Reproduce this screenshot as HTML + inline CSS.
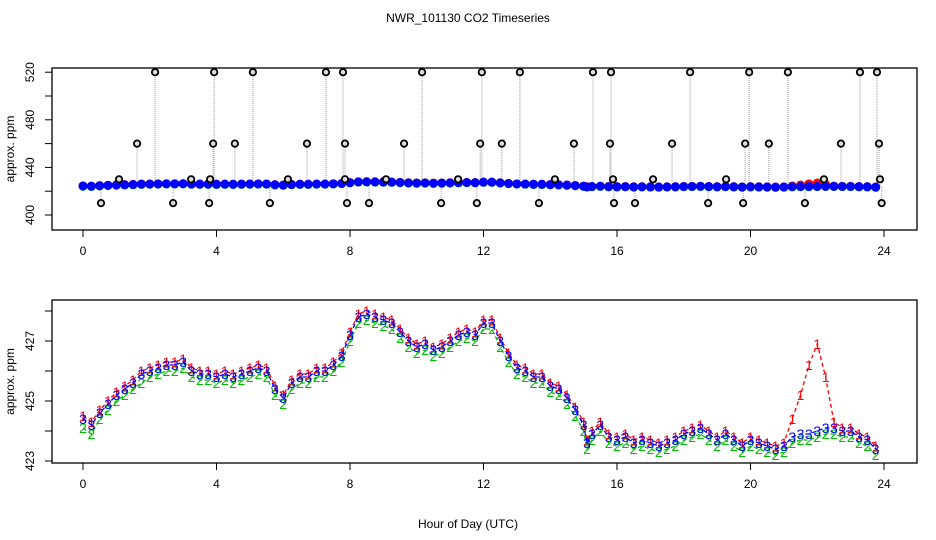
<!DOCTYPE html>
<html><head><meta charset="utf-8"><style>
body{margin:0;background:#fff}
svg{display:block;font-family:"Liberation Sans",sans-serif}
</style></head><body>
<svg id="chart" width="936" height="540" viewBox="0 0 936 540" xmlns="http://www.w3.org/2000/svg">
<rect width="936" height="540" fill="#fff"/>
<text x="468" y="22" font-size="12" text-anchor="middle">NWR_101130  CO2 Timeseries</text>
<text x="468" y="528" font-size="12" text-anchor="middle">Hour of Day (UTC)</text>
<g id="topPanel"></g>
<g id="botPanel"></g>
</svg>
<script>
const hours=[0,0.25,0.5,0.75,1,1.25,1.5,1.75,2,2.25,2.5,2.75,3,3.25,3.5,3.75,4,4.25,4.5,4.75,5,5.25,5.5,5.75,6,6.25,6.5,6.75,7,7.25,7.5,7.75,8,8.25,8.5,8.75,9,9.25,9.5,9.75,10,10.25,10.5,10.75,11,11.25,11.5,11.75,12,12.25,12.5,12.75,13,13.25,13.5,13.75,14,14.25,14.5,14.75,15,15.1,15.25,15.5,15.75,16,16.25,16.5,16.75,17,17.25,17.5,17.75,18,18.25,18.5,18.75,19,19.25,19.5,19.75,20,20.25,20.5,20.75,21,21.25,21.5,21.75,22,22.25,22.5,22.75,23,23.25,23.5,23.75];
const series3=[424.4,424.2,424.6,424.9,425.2,425.4,425.6,425.9,426.0,426.1,426.2,426.2,426.3,426.0,425.9,425.9,425.8,425.9,425.8,425.9,426.0,426.1,426.0,425.4,425.1,425.6,425.8,425.8,426.0,426.0,426.2,426.5,427.2,427.8,427.9,427.8,427.7,427.6,427.3,427.0,426.8,426.9,426.7,426.8,427.0,427.2,427.3,427.2,427.6,427.6,427.0,426.5,426.1,426.0,425.8,425.8,425.5,425.4,425.1,424.7,424.2,423.6,423.9,424.2,423.8,423.7,423.8,423.6,423.7,423.6,423.5,423.6,423.7,423.9,424.0,424.1,423.9,423.7,423.9,423.7,423.5,423.7,423.6,423.5,423.4,423.5,423.8,423.9,423.9,424.0,424.1,424.1,424.0,424.0,423.8,423.7,423.4];
const series1=[424.5,424.3,424.7,425.0,425.3,425.5,425.7,426.0,426.1,426.2,426.3,426.3,426.4,426.1,426.0,426.0,425.9,426.0,425.9,426.0,426.1,426.2,426.1,425.5,425.2,425.7,425.9,425.9,426.1,426.1,426.3,426.6,427.3,427.9,428.0,427.9,427.8,427.7,427.4,427.1,426.9,427.0,426.8,426.9,427.1,427.3,427.4,427.3,427.7,427.7,427.1,426.6,426.2,426.1,425.9,425.9,425.6,425.5,425.2,424.8,424.3,423.7,424.0,424.3,423.9,423.8,423.9,423.7,423.8,423.7,423.6,423.7,423.8,424.0,424.1,424.2,424.0,423.8,424.0,423.8,423.6,423.8,423.7,423.6,423.5,423.6,424.4,425.2,426.2,426.9,425.8,424.3,424.1,424.1,423.9,423.8,423.5];
const series2=[424.1,423.9,424.4,424.7,425.0,425.2,425.4,425.6,425.8,425.9,426.0,426.0,426.1,425.8,425.7,425.7,425.6,425.7,425.6,425.7,425.8,425.9,425.8,425.2,424.9,425.4,425.6,425.6,425.8,425.8,426.0,426.3,427.0,427.6,427.7,427.6,427.5,427.4,427.1,426.8,426.6,426.7,426.5,426.6,426.8,427.0,427.1,427.0,427.4,427.4,426.8,426.3,425.9,425.8,425.6,425.6,425.3,425.2,424.9,424.5,424.0,423.4,423.7,424.0,423.6,423.5,423.6,423.4,423.5,423.4,423.3,423.4,423.5,423.7,423.8,423.9,423.7,423.5,423.7,423.5,423.3,423.5,423.4,423.3,423.2,423.3,423.6,423.7,423.7,423.8,423.9,423.9,423.8,423.8,423.6,423.5,423.2];
const outHours=[2.16,3.93,5.09,7.28,7.79,10.16,11.95,13.09,15.28,15.82,18.19,19.96,21.12,23.28,23.79,1.62,3.9,4.55,6.71,7.85,9.62,11.9,12.55,14.71,15.79,17.65,19.84,20.55,22.71,23.85,1.08,3.24,3.81,6.14,7.85,9.08,11.24,14.14,15.88,17.08,19.27,22.2,23.88,0.54,2.7,3.78,5.6,7.91,8.57,10.73,11.8,13.66,15.91,16.54,18.73,19.78,21.63,23.93];
const outValues=[520,520,520,520,520,520,520,520,520,520,520,520,520,520,520,460,460,460,460,460,460,460,460,460,460,460,460,460,460,460,430,430,430,430,430,430,430,430,430,430,430,430,430,410,410,410,410,410,410,410,410,410,410,410,410,410,410,410];
const xTicks=[0,4,8,12,16,20,24];
const topYTicks=[400,440,480,520];
const botYTicks=[423,425,427];

const NS="http://www.w3.org/2000/svg";
function mk(p,tag,a){const e=document.createElementNS(NS,tag);for(const k in a)e.setAttribute(k,a[k]);p.appendChild(e);return e;}
const X=h=>83+h*33.375;
const Yt=v=>215-(v-400)*1.19;
const Yb=v=>311+(428-v)*30;
function baseAt(h){let i=0;while(i<hours.length-1&&hours[i+1]<h)i++;return series3[i];}

function axes(g,y0,y1,yTicks,Y,minor){
  const box=mk(g,'rect',{x:52,y:y0,width:865,height:y1-y0,fill:'none',stroke:'#000','stroke-width':1.3});
  
  
  xTicks.forEach(t=>{
    const l=mk(g,'line',{x1:X(t),x2:X(t),y1:y1,y2:y1+7,stroke:'#000'});
    
    
    const tx=mk(g,'text',{x:X(t),y:y1+25,'font-size':12,'text-anchor':'middle'});tx.textContent=t;
    
    
  });
  minor.forEach(t=>{
    const l=mk(g,'line',{x1:45,x2:52,y1:Y(t),y2:Y(t),stroke:'#000'});
    
    
  });
  yTicks.forEach(t=>{
    const tx=mk(g,'text',{x:34,y:Y(t),'font-size':12,'text-anchor':'middle',transform:`rotate(-90 34 ${Y(t)})`});tx.textContent=t;
    
    
  });
  const yt=mk(g,'text',{x:14,y:(y0+y1)/2,'font-size':12,'text-anchor':'middle',transform:`rotate(-90 14 ${(y0+y1)/2})`});yt.textContent='approx. ppm';
  
  
}

// top panel
const topG=document.getElementById('topPanel');


axes(topG,68,230,topYTicks,Yt,[400,420,440,460,480,500,520]);
outHours.forEach((h,i)=>{
  const l=mk(topG,'line',{x1:X(h),x2:X(h),y1:Yt(baseAt(h)),y2:Yt(outValues[i]),stroke:'#aaa','stroke-width':1.2,'stroke-dasharray':'1,1'});
  
  
});
[[series1,'#f00'],[series2,'#0c0'],[series3,'#00f']].forEach(([s,c])=>{
  s.forEach((v,i)=>{
    const e=mk(topG,'circle',{cx:X(hours[i]),cy:Yt(v),r:3.5,fill:c,stroke:c,'stroke-width':2});
    
    
  });
});
outHours.forEach((h,i)=>{
  const e=mk(topG,'circle',{cx:X(h),cy:Yt(outValues[i]),r:3.2,fill:'#ddd',stroke:'#000','stroke-width':1.8});
  
  
});

// bottom panel
const botG=document.getElementById('botPanel');


axes(botG,300,463,botYTicks,Yb,[423,424,425,426,427,428]);
[[series1,'#f00','1'],[series2,'#0b0','2'],[series3,'#00f','3']].forEach(([s,c,lab])=>{
  const pl=mk(botG,'polyline',{points:s.map((v,i)=>X(hours[i])+','+Yb(v)).join(' '),fill:'none',stroke:c,'stroke-width':1.3,'stroke-dasharray':'4,3'});
  
  
  s.forEach((v,i)=>{
    const t=mk(botG,'text',{x:X(hours[i]),y:Yb(v)+5,'font-size':14,'text-anchor':'middle',fill:c});t.textContent=lab;
    
    
  });
});
</script>
</body></html>
